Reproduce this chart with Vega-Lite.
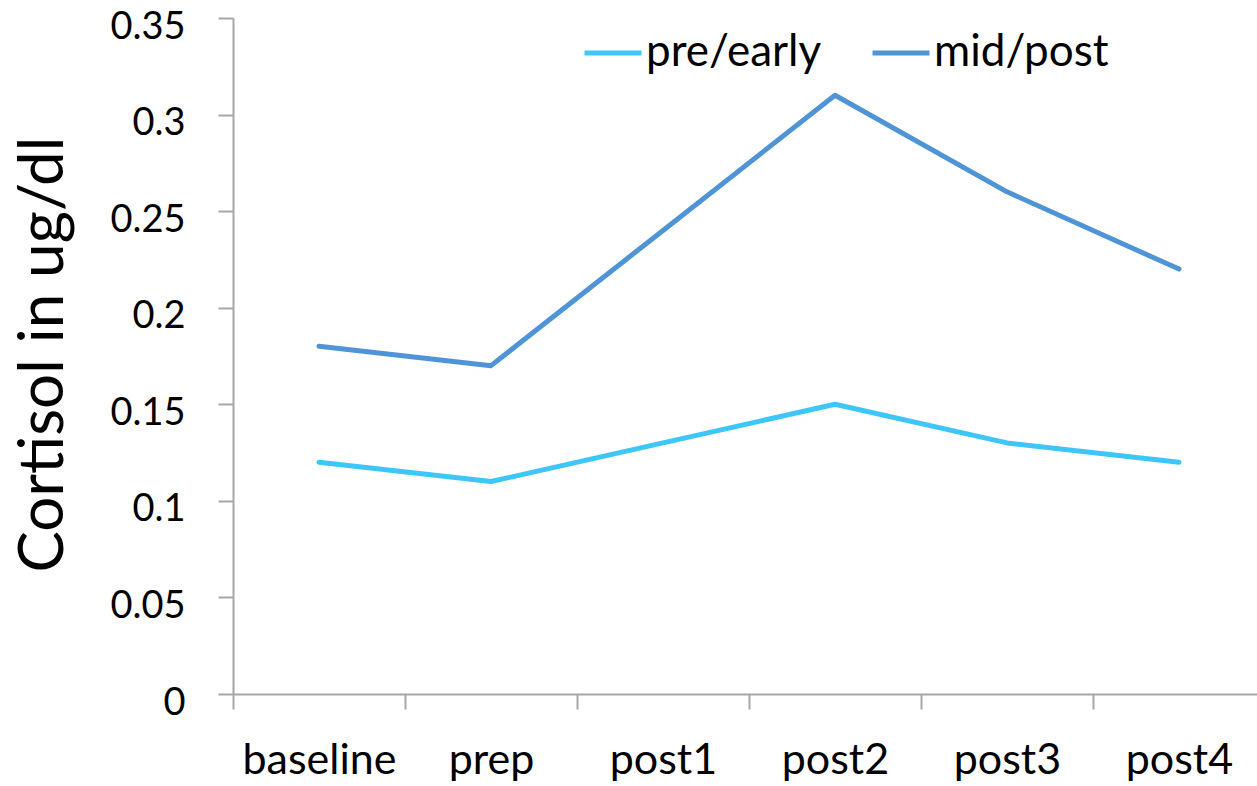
{
  "$schema": "https://vega.github.io/schema/vega-lite/v6.json",
  "autosize": {"type": "none"},
  "padding": {"left": 233, "top": 18, "right": 0, "bottom": 92},
  "width": 1032,
  "height": 676,
  "background": "white",
  "config": {"view": {"stroke": null}, "font": "Lato"},
  "data": {"values": [
    {"time": "baseline", "group": "pre/early", "cortisol": 0.12},
    {"time": "prep", "group": "pre/early", "cortisol": 0.11},
    {"time": "post1", "group": "pre/early", "cortisol": 0.13},
    {"time": "post2", "group": "pre/early", "cortisol": 0.15},
    {"time": "post3", "group": "pre/early", "cortisol": 0.13},
    {"time": "post4", "group": "pre/early", "cortisol": 0.12},
    {"time": "baseline", "group": "mid/post", "cortisol": 0.18},
    {"time": "prep", "group": "mid/post", "cortisol": 0.17},
    {"time": "post1", "group": "mid/post", "cortisol": 0.24},
    {"time": "post2", "group": "mid/post", "cortisol": 0.31},
    {"time": "post3", "group": "mid/post", "cortisol": 0.26},
    {"time": "post4", "group": "mid/post", "cortisol": 0.22}
  ]},
  "mark": {"type": "line", "strokeWidth": 5, "strokeCap": "round", "strokeJoin": "round"},
  "encoding": {
    "x": {
      "field": "time", "type": "nominal",
      "sort": ["baseline", "prep", "post1", "post2", "post3", "post4"],
      "scale": {"type": "band", "paddingInner": 0, "paddingOuter": 0},
      "axis": {
        "title": null, "labelAngle": 0, "labelFontSize": 43, "labelColor": "black",
        "labelPadding": 30, "domainColor": "#A6A6A6", "domainWidth": 2,
        "tickColor": "#A6A6A6", "tickWidth": 2, "tickSize": 15, "tickBand": "extent",
        "grid": false, "labelFont": "Lato"
      }
    },
    "y": {
      "field": "cortisol", "type": "quantitative",
      "scale": {"domain": [0, 0.35], "nice": false},
      "axis": {
        "title": "Cortisol in ug/dl", "titleFontSize": 62, "titleFontWeight": "normal",
        "titleColor": "black", "titleFont": "Lato", "titlePadding": 34, "titleY": 336,
        "values": [0, 0.05, 0.1, 0.15, 0.2, 0.25, 0.3, 0.35],
        "labelExpr": "datum.value == 0 ? '0' : format(datum.value, '.2~f')",
        "labelFontSize": 38, "labelColor": "black", "labelPadding": 33, "labelFont": "Lato",
        "labelOffset": 9,
        "domainColor": "#A6A6A6", "domainWidth": 2, "tickColor": "#A6A6A6",
        "tickWidth": 2, "tickSize": 15, "grid": false
      }
    },
    "color": {
      "field": "group", "type": "nominal",
      "scale": {"domain": ["pre/early", "mid/post"], "range": ["#3EC6F8", "#4F94D6"]},
      "legend": {
        "title": null, "orient": "none", "legendX": 349, "legendY": 4,
        "direction": "horizontal", "symbolType": "stroke", "symbolStrokeWidth": 5,
        "symbolSize": 3249, "labelFontSize": 44, "labelColor": "black", "labelFont": "Lato",
        "labelLimit": 400, "columnPadding": 40, "labelOffset": 2
      }
    }
  }
}
